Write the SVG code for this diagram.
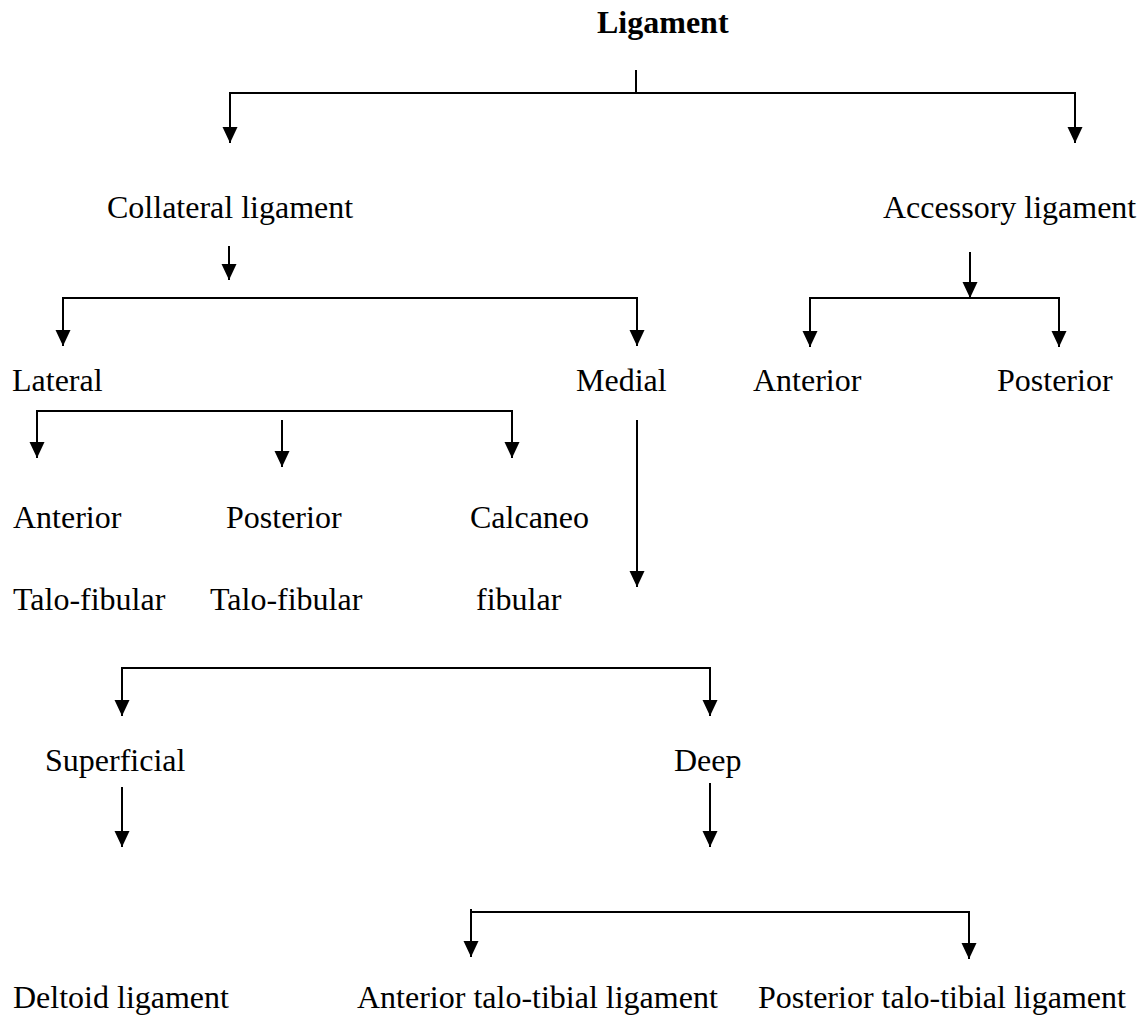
<svg xmlns="http://www.w3.org/2000/svg" width="1138" height="1028" viewBox="0 0 1138 1028">
<style>
  .t { font-family: "Liberation Serif", "Times New Roman", serif; font-size: 32px; fill: #000; }
  .b { font-weight: bold; }
  .c { stroke: #000; stroke-width: 2; fill: none; }
  .a { stroke: #000; stroke-width: 2; fill: none; marker-end: url(#arr); }
</style>
<defs>
  <marker id="arr" markerUnits="userSpaceOnUse" markerWidth="16" markerHeight="17" refX="16" refY="7.5" orient="auto">
    <path d="M0,0 L16,7.5 L0,15 z" fill="#000"/>
  </marker>
</defs>
<rect width="1138" height="1028" fill="#fff"/>
<g id="connectors">
  <line class="c" x1="636" y1="70" x2="636" y2="94" stroke-width="1.3"/>
  <line class="c" x1="229" y1="93" x2="1076" y2="93" stroke-width="2.5"/>
  <line class="a" x1="230" y1="93" x2="230" y2="143"/>
  <line class="a" x1="1075" y1="93" x2="1075" y2="143"/>
  <line class="a" x1="229" y1="246" x2="229" y2="280"/>
  <line class="c" x1="62" y1="298" x2="638" y2="298"/>
  <line class="a" x1="63" y1="298" x2="63" y2="346"/>
  <line class="a" x1="637" y1="298" x2="637" y2="346"/>
  <line class="a" x1="970" y1="252" x2="970" y2="298"/>
  <line class="c" x1="809" y1="298" x2="1060" y2="298"/>
  <line class="a" x1="810" y1="298" x2="810" y2="347"/>
  <line class="a" x1="1059" y1="298" x2="1059" y2="347"/>
  <line class="c" x1="36" y1="411" x2="513" y2="411"/>
  <line class="a" x1="37" y1="411" x2="37" y2="458"/>
  <line class="a" x1="512" y1="411" x2="512" y2="458"/>
  <line class="a" x1="282" y1="420" x2="282" y2="467"/>
  <line class="a" x1="637" y1="420" x2="637" y2="587"/>
  <line class="c" x1="121" y1="668" x2="711" y2="668"/>
  <line class="a" x1="122" y1="668" x2="122" y2="716"/>
  <line class="a" x1="710" y1="668" x2="710" y2="716"/>
  <line class="a" x1="122" y1="787" x2="122" y2="847"/>
  <line class="a" x1="710" y1="783" x2="710" y2="847"/>
  <line class="c" x1="471" y1="912" x2="970" y2="912"/>
  <line class="a" x1="471" y1="909" x2="471" y2="957"/>
  <line class="a" x1="969" y1="912" x2="969" y2="959"/>
</g>
<g id="n-ligament"><text class="t b" x="597" y="33">Ligament</text></g>
<g id="n-collateral"><text class="t" x="107" y="218">Collateral ligament</text></g>
<g id="n-accessory"><text class="t" x="883" y="218">Accessory ligament</text></g>
<g id="n-lateral"><text class="t" x="12" y="391">Lateral</text></g>
<g id="n-medial"><text class="t" x="576" y="391">Medial</text></g>
<g id="n-acc-anterior"><text class="t" x="753" y="391">Anterior</text></g>
<g id="n-acc-posterior"><text class="t" x="997" y="391">Posterior</text></g>
<g id="n-ant-talofib"><text class="t" x="13" y="528">Anterior</text><text class="t" x="13" y="610">Talo-fibular</text></g>
<g id="n-post-talofib"><text class="t" x="226" y="528">Posterior</text><text class="t" x="210" y="610">Talo-fibular</text></g>
<g id="n-calcaneofib"><text class="t" x="470" y="528">Calcaneo</text><text class="t" x="476" y="610">fibular</text></g>
<g id="n-superficial"><text class="t" x="45" y="771">Superficial</text></g>
<g id="n-deep"><text class="t" x="674" y="771">Deep</text></g>
<g id="n-deltoid"><text class="t" x="13" y="1008">Deltoid ligament</text></g>
<g id="n-ant-talotibial"><text class="t" x="357" y="1008">Anterior talo-tibial ligament</text></g>
<g id="n-post-talotibial"><text class="t" x="758" y="1008">Posterior talo-tibial ligament</text></g>
</svg>
